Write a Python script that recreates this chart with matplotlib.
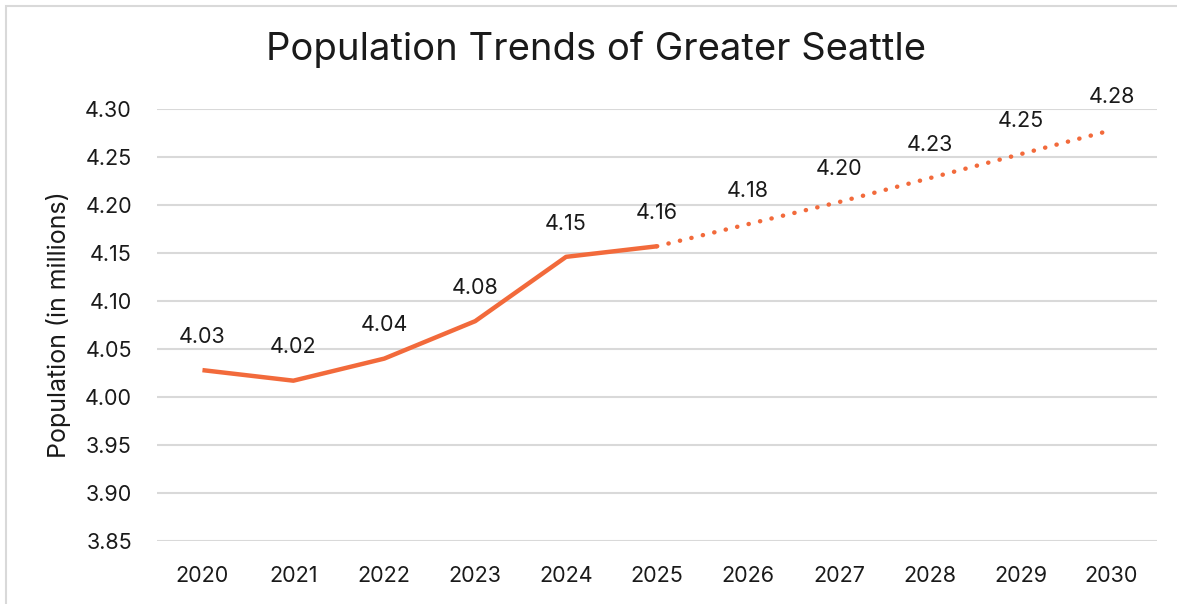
import matplotlib
matplotlib.use("Agg")
import matplotlib.pyplot as plt
from matplotlib.patches import Rectangle

years = ["2020", "2021", "2022", "2023", "2024", "2025", "2026", "2027", "2028", "2029", "2030"]
actual = [4.028, 4.017, 4.040, 4.079, 4.146, 4.157]
projected = [4.157, 4.180, 4.203, 4.228, 4.253, 4.278]
labels = ["4.03", "4.02", "4.04", "4.08", "4.15", "4.16", "4.18", "4.20", "4.23", "4.25", "4.28"]
yticks = [3.85, 3.90, 3.95, 4.00, 4.05, 4.10, 4.15, 4.20, 4.25, 4.30]

plt.rcParams['font.family'] = ['Inter', 'DejaVu Sans']
color = '#F26A3B'
text_color = '#1a1a1a'

fig = plt.figure(figsize=(11.77, 6.04), dpi=100)
fig.patches.append(Rectangle((6/1177, -0.1), 1.2, (604-6)/604 + 0.1, transform=fig.transFigure,
                             fill=False, edgecolor='#D9D9D9', linewidth=1.5))
ax = fig.add_axes([157/1177, 63/604, 1000/1177, 432/604])

xa = list(range(len(actual)))
xp = list(range(len(actual) - 1, len(years)))
ax.plot(xa, actual, color=color, linewidth=3.2, solid_capstyle='butt', zorder=3)
ax.plot(xp, projected, color=color, linewidth=3.2, linestyle=(0, (0.05, 2.6)),
        dash_capstyle='round', zorder=3)

allvals = actual + projected[1:]
for i, (v, lab) in enumerate(zip(allvals, labels)):
    ax.annotate(lab, (i, v), xytext=(0, 24), textcoords='offset points',
                ha='center', va='center', fontsize=15.5, color=text_color)

ax.set_xlim(-0.5, len(years) - 0.5)
ax.set_ylim(3.85, 4.30)
ax.set_xticks(range(len(years)))
ax.set_xticklabels(years)
ax.set_yticks(yticks)
ax.set_yticklabels([f"{t:.2f}" for t in yticks])
ax.tick_params(axis='both', length=0, labelsize=15.5, labelcolor=text_color)
ax.tick_params(axis='x', pad=18)
ax.tick_params(axis='y', pad=18)
ax.grid(axis='y', color='#D9D9D9', linewidth=1.5)
ax.set_axisbelow(True)
for s in ax.spines.values():
    s.set_visible(False)
ax.set_ylabel("Population (in millions)", fontsize=18, color=text_color, labelpad=10)

fig.text(596/1177, 1 - 50/604, "Population Trends of Greater Seattle", ha='center', va='center',
         fontsize=27.5, color=text_color)

fig.savefig("out.png", dpi=100)
